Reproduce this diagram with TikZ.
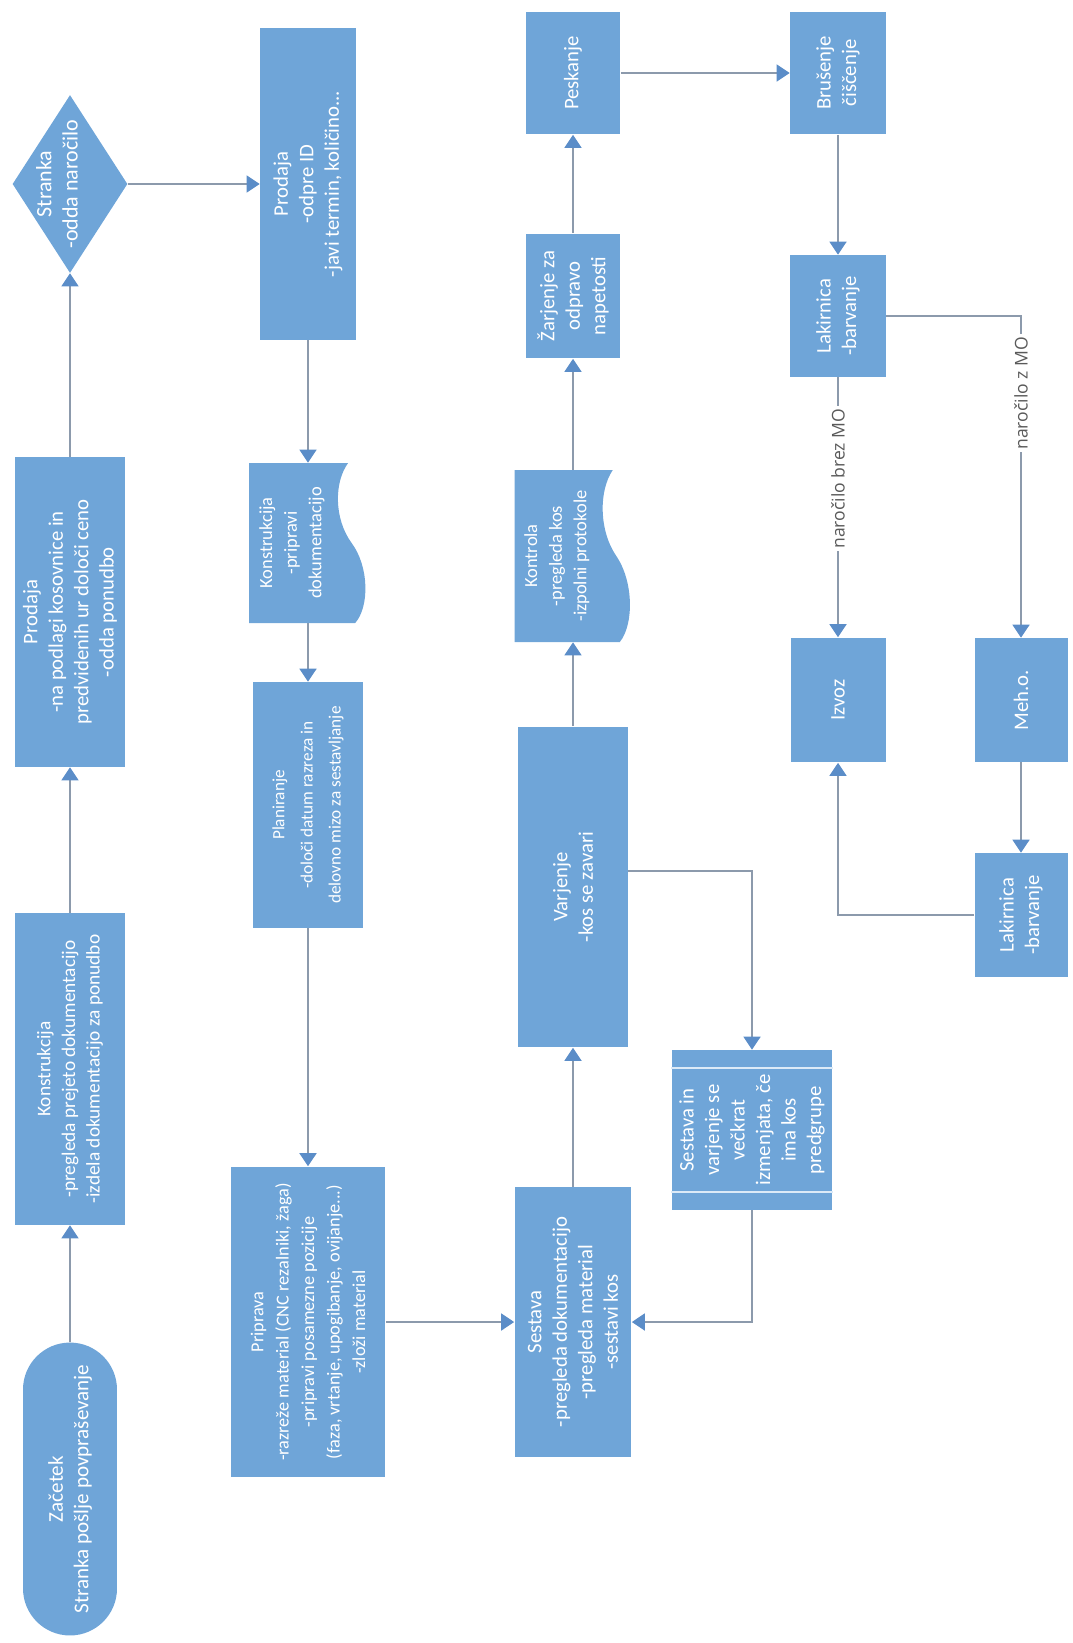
\documentclass[tikz,border=0pt]{standalone}
\usepackage{fontspec}
\setmainfont{Carlito}
\newfontfamily\labelfont{Open Sans}
\usepackage{tikz}
\usetikzlibrary{arrows.meta,backgrounds,calc,shapes.geometric,shapes.misc}
\definecolor{boxblue}{HTML}{6FA5D8}
\definecolor{tipblue}{HTML}{5B8DC8}
\definecolor{linegray}{HTML}{8C9AAC}
\definecolor{labelgray}{HTML}{5A5A5A}
\definecolor{sublight}{HTML}{DCEAF7}
\tikzset{
  box/.style={rectangle,fill=boxblue,text=white,rotate=90,align=center,inner sep=2pt,
    font=\fontsize{11.8}{14.5}\selectfont},
  smalltext/.style={font=\fontsize{10.5}{14}\selectfont},
  terminal/.style={box,rounded rectangle},
  decision/.style={box,diamond,aspect=1.55,inner sep=-8pt,font=\fontsize{12.5}{15}\selectfont},
  docbox/.style={box,fill=none},
  subbox/.style={box},
  subline/.style={draw=sublight,line width=1pt},
  conn/.style={draw=linegray,line width=1pt,-{Triangle[length=0.26cm,width=0.34cm,color=tipblue]}},
  lbl/.style={fill=white,text=labelgray,rotate=90,inner sep=1.5pt,
    font=\labelfont\fontsize{10}{12}\selectfont}
}
% wavy document outline behind a docbox node (name, width, height in px)
\newcommand{\docfill}[3]{%
  \fill[boxblue] ($(#1.center)+(-0.5*#2,-0.5*#3)$) -- ($(#1.center)+(0.34*#2,-0.5*#3)$)
    .. controls ($(#1.center)+(0.22*#2,-0.38*#3)$) and ($(#1.center)+(0.22*#2,-0.15*#3)$)
    .. ($(#1.center)+(0.37*#2,0)$)
    .. controls ($(#1.center)+(0.52*#2,0.15*#3)$) and ($(#1.center)+(0.52*#2,0.4*#3)$)
    .. ($(#1.center)+(0.4*#2,0.5*#3)$) -- ($(#1.center)+(-0.5*#2,0.5*#3)$) -- cycle;}

\begin{document}
\begin{tikzpicture}[x=0.02cm,y=-0.02cm]
\useasboundingbox (0,0) rectangle (1072,1643);

% first column: inquiry and offer
\node[terminal,font=\fontsize{12}{14.5}\selectfont,minimum width=6cm,minimum height=1.88cm] (start) at (70,1489) {Začetek\\Stranka pošlje povpraševanje};
\node[box,font=\fontsize{11}{14}\selectfont,minimum width=6.24cm,minimum height=2.2cm] (konst1) at (70,1069) {Konstrukcija\\-pregleda prejeto dokumentacijo\\-izdela dokumentacijo za ponudbo};
\node[box,minimum width=6.2cm,minimum height=2.2cm] (prod1) at (70,612) {Prodaja\\-na podlagi kosovnice in\\predvidenih ur določi ceno\\-odda ponudbo};
\node[decision,minimum width=3.56cm,minimum height=2.3cm] (stranka) at (70,184) {Stranka\\-odda naročilo\\\mbox{}};

% second column: order and preparation
\node[box,minimum width=6.24cm,minimum height=1.92cm] (prod2) at (308,184) {Prodaja\\-odpre ID\\-javi termin, količino...};
\node[docbox,smalltext,minimum width=3.2cm,minimum height=2.36cm] (konst2) at (308,543) {Konstrukcija\\-pripravi\\dokumentacijo\\[6pt]\mbox{}};
\node[box,font=\fontsize{9.8}{16}\selectfont,minimum width=4.92cm,minimum height=2.22cm] (plan) at (308,805) {Planiranje\\-določi datum razreza in\\delovno mizo za sestavljanje};
\node[box,font=\fontsize{10.4}{14.5}\selectfont,minimum width=6.22cm,minimum height=3.1cm] (prip) at (308,1322) {Priprava\\-razreže material (CNC rezalniki, žaga)\\-pripravi posamezne pozicije\\(faza, vrtanje, upogibanje, ovijanje...)\\-zloži material};

% third column: assembly, welding, control
\node[box,minimum width=5.4cm,minimum height=2.34cm] (sest) at (573,1322) {Sestava\\-pregleda dokumentacijo\\-pregleda material\\-sestavi kos};
\node[box,minimum width=6.42cm,minimum height=2.2cm] (varj) at (573,887) {Varjenje\\-kos se zavari};
\node[docbox,smalltext,minimum width=3.44cm,minimum height=2.34cm] (kontr) at (573,556) {Kontrola\\-pregleda kos\\-izpolni protokole\\[6pt]\mbox{}};
\node[box,minimum width=2.5cm,minimum height=1.9cm] (zarj) at (573,296) {Žarjenje za\\odpravo\\napetosti};
\node[box,minimum width=2.46cm,minimum height=1.9cm] (pesk) at (573,73) {Peskanje};
\node[subbox,minimum width=3.2cm,minimum height=3.22cm] (subp) at (752,1130) {Sestava in\\varjenje se\\večkrat\\izmenjata, če\\ima kos\\predgrupe};

% fourth and fifth column: finishing
\node[box,minimum width=2.46cm,minimum height=1.92cm] (brus) at (838,73) {Brušenje\\čiščenje};
\node[box,minimum width=2.44cm,minimum height=1.92cm] (lak1) at (838,316) {Lakirnica\\-barvanje};
\node[box,minimum width=2.5cm,minimum height=1.9cm] (izvoz) at (838,700) {Izvoz};
\node[box,minimum width=2.48cm,minimum height=1.86cm] (meho) at (1021,700) {Meh.o.};
\node[box,minimum width=2.48cm,minimum height=1.86cm] (lak2) at (1021,915) {Lakirnica\\-barvanje};

\begin{scope}[on background layer]
\docfill{konst2}{118}{160}
\docfill{kontr}{117}{172}
\end{scope}
\draw[subline] ($(subp.north east)+(0,18)$) -- ($(subp.south east)+(0,18)$);
\draw[subline] ($(subp.north west)+(0,-18)$) -- ($(subp.south west)+(0,-18)$);

% connectors
\draw[conn] (start) -- (konst1);
\draw[conn] (konst1) -- (prod1);
\draw[conn] (prod1) -- (stranka);
\draw[conn] (stranka) -- (prod2);
\draw[conn] (prod2) -- (konst2);
\draw[conn] (konst2) -- (plan);
\draw[conn] (plan) -- (prip);
\draw[conn] (prip) -- (sest);
\draw[conn] (sest) -- (varj);
\draw[conn] ($(varj.south)+(0,-16)$) -| (subp);
\draw[conn] (subp) |- (sest);
\draw[conn] (varj) -- (kontr);
\draw[conn] (kontr) -- (zarj);
\draw[conn] (zarj) -- (pesk);
\draw[conn] (pesk) -- (brus);
\draw[conn] (brus) -- (lak1);
\draw[conn] (lak1) -- node[lbl,pos=0.39] {naročilo brez MO} (izvoz);
\draw[conn] (lak1) -| node[lbl,pos=0.62] {naročilo z MO} (meho);
\draw[conn] (meho) -- (lak2);
\draw[conn] (lak2) -| (izvoz);
\end{tikzpicture}
\end{document}
